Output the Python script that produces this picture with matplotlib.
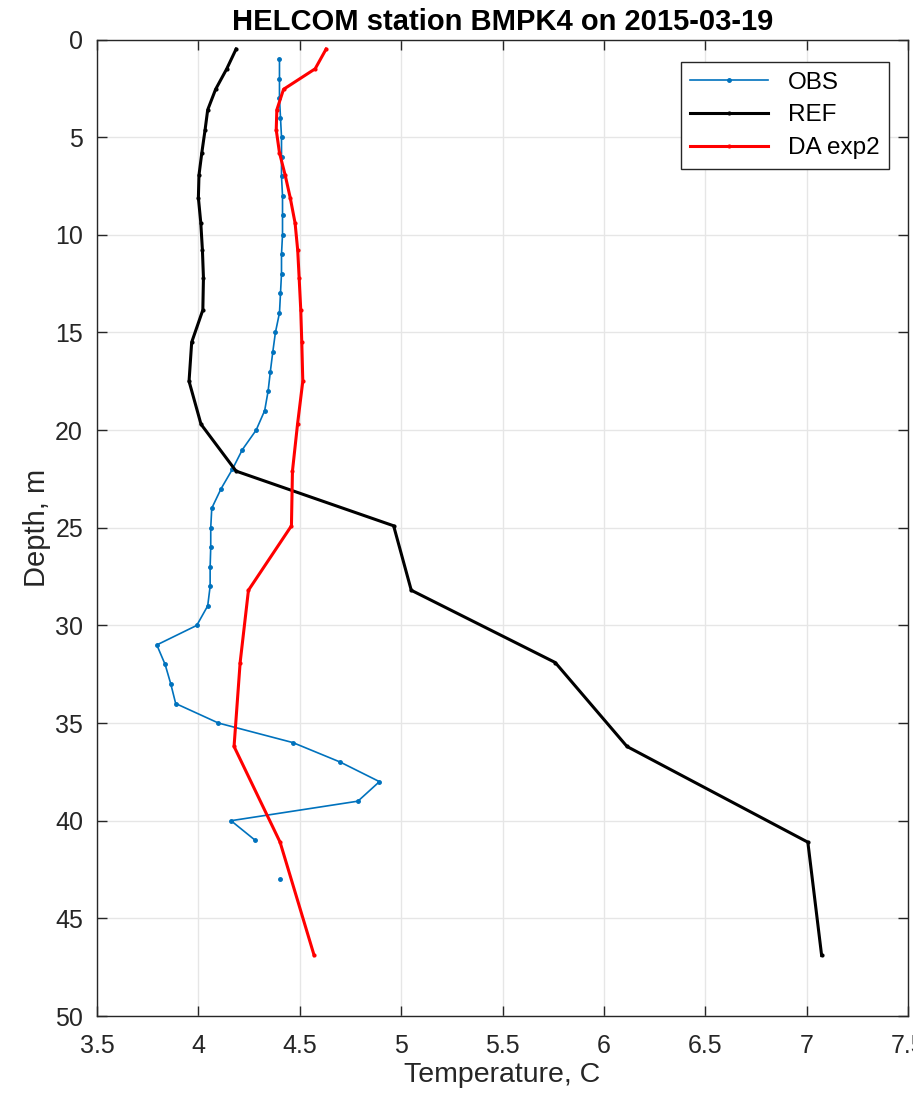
import matplotlib.pyplot as plt
import numpy as np

# observed profile (1 m steps, 42 m missing)
obs_depth = [1, 2, 3, 4, 5, 6, 7, 8, 9, 10, 11, 12, 13, 14, 15, 16, 17, 18, 19, 20,
             21, 22, 23, 24, 25, 26, 27, 28, 29, 30, 31, 32, 33, 34, 35, 36, 37, 38, 39, 40,
             41, 42, 43]
obs_temp = [4.40, 4.40, 4.40, 4.405, 4.41, 4.41, 4.41, 4.415, 4.415, 4.415,
            4.41, 4.41, 4.405, 4.40, 4.38, 4.367, 4.355, 4.344, 4.327, 4.285,
            4.217, 4.168, 4.112, 4.066, 4.061, 4.061, 4.058, 4.058, 4.046, 3.992,
            3.795, 3.836, 3.864, 3.888, 4.099, 4.466, 4.70, 4.893, 4.787, 4.161,
            4.28, np.nan, 4.403]

# model levels
mod_depth = [0.49, 1.5, 2.55, 3.6, 4.63, 5.8, 6.94, 8.1, 9.4, 10.8, 12.2,
             13.85, 15.5, 17.5, 19.7, 22.1, 24.9, 28.2, 31.9, 36.2, 41.1, 46.9]
ref_temp = [4.186, 4.14, 4.085, 4.046, 4.033, 4.017, 4.003, 4.0, 4.012, 4.02, 4.025,
            4.022, 3.967, 3.954, 4.013, 4.186, 4.963, 5.05, 5.76, 6.114, 7.006, 7.074]
da_temp = [4.63, 4.576, 4.42, 4.387, 4.384, 4.40, 4.428, 4.453, 4.477, 4.49, 4.497,
           4.505, 4.51, 4.515, 4.489, 4.464, 4.459, 4.247, 4.206, 4.176, 4.403, 4.571]

xticks = [3.5, 4, 4.5, 5, 5.5, 6, 6.5, 7, 7.5]
xticklabels = ['3.5', '4', '4.5', '5', '5.5', '6', '6.5', '7', '7.5']
yticks = [0, 5, 10, 15, 20, 25, 30, 35, 40, 45, 50]

plt.rcParams['font.family'] = ['Liberation Sans', 'DejaVu Sans']

fig = plt.figure(figsize=(9.13, 11.01), dpi=100)
ax = fig.add_axes([97/913, 1-1016/1101, 811/913, 976.5/1101])

ax.plot(obs_temp, obs_depth, c='#0072BD', lw=1.2, marker='.', ms=5, label='OBS')
ax.plot(ref_temp, mod_depth, c='black', lw=2.2, marker='.', ms=4, label='REF')
ax.plot(da_temp, mod_depth, c='red', lw=2.2, marker='.', ms=4, label='DA exp2')

ax.set_xlim(3.5, 7.5)
ax.set_ylim(50, 0)
ax.set_xticks(xticks)
ax.set_xticklabels(xticklabels)
ax.set_yticks(yticks)
ax.grid(True, color='#e6e6e6', lw=1)
ax.set_axisbelow(True)
ax.tick_params(direction='in', length=7, width=1, top=True, right=True,
               labelsize=18, colors='#262626')
ax.tick_params(axis='x', pad=13)
ax.tick_params(axis='y', pad=10)
for s in ax.spines.values():
    s.set_color('#262626')
    s.set_linewidth(1)

ax.set_xlabel('Temperature, C', fontsize=20.5, color='#262626', labelpad=3)
ax.set_ylabel('Depth, m', fontsize=21, color='#262626', labelpad=3)
ax.set_title('HELCOM station BMPK4 on 2015-03-19', fontsize=21, fontweight='bold', pad=7)

leg = ax.legend(loc='upper right', bbox_to_anchor=(0.9766, 0.977), borderaxespad=0,
                fontsize=17.5, handlelength=3.2, fancybox=False, edgecolor='#262626',
                framealpha=1, borderpad=0.4, labelspacing=0.44)
leg.get_frame().set_linewidth(1)

plt.savefig('out.png', dpi=100)
